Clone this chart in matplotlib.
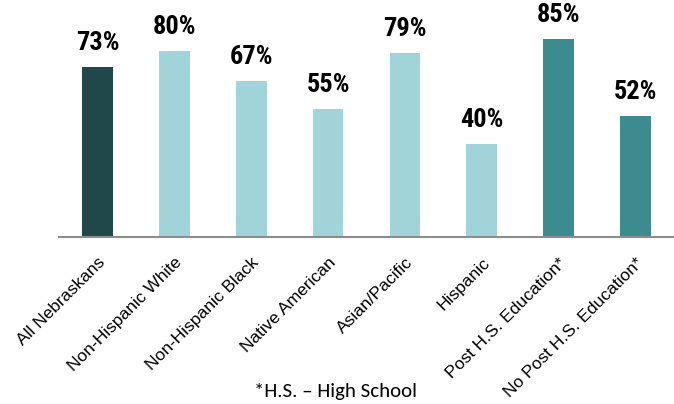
import matplotlib.pyplot as plt

# Categories and values
categories = ["All Nebraskans", "Non-Hispanic White", "Non-Hispanic Black",
              "Native American", "Asian/Pacific", "Hispanic",
              "Post H.S. Education*", "No Post H.S. Education*"]
values = [73, 80, 67, 55, 79, 40, 85, 52]
labels = ["73%", "80%", "67%", "55%", "79%", "40%", "85%", "52%"]
colors = ["#20484A", "#A0D4D8", "#A0D4D8", "#A0D4D8", "#A0D4D8",
          "#A0D4D8", "#3C8B8F", "#3C8B8F"]

fig = plt.figure(figsize=(6.74, 4.04), dpi=100)
ax = fig.add_axes([59 / 674, 167 / 404, 615 / 674, 237 / 404])

x = range(len(categories))
bars = ax.bar(x, values, width=0.4, color=colors)

# value labels above bars
for b, lab in zip(bars, labels):
    ax.annotate(lab, (b.get_x() + b.get_width() / 2, b.get_height()),
                xytext=(0, 9), textcoords="offset points",
                ha="center", va="bottom", fontsize=19, fontweight="bold",
                family=["Roboto Condensed", "DejaVu Sans"])

ax.set_xlim(-0.5, len(categories) - 0.5)
ax.set_ylim(0, 102)
ax.set_yticks([])
ax.set_xticks(list(x))
ax.set_xticklabels(categories, rotation=45, ha="right", rotation_mode="anchor",
                   fontsize=12.5, family=["Liberation Sans", "DejaVu Sans"])
ax.tick_params(axis="x", length=0, pad=13)

for s in ["top", "left", "right"]:
    ax.spines[s].set_visible(False)
ax.spines["bottom"].set_color("#8C8C8C")
ax.spines["bottom"].set_linewidth(1.5)

fig.text(336 / 674, 1 - 391 / 404, "*H.S. \u2013 High School", ha="center", va="center",
         fontsize=15, family=["Carlito", "DejaVu Sans"])

plt.savefig("out.png", dpi=100)
